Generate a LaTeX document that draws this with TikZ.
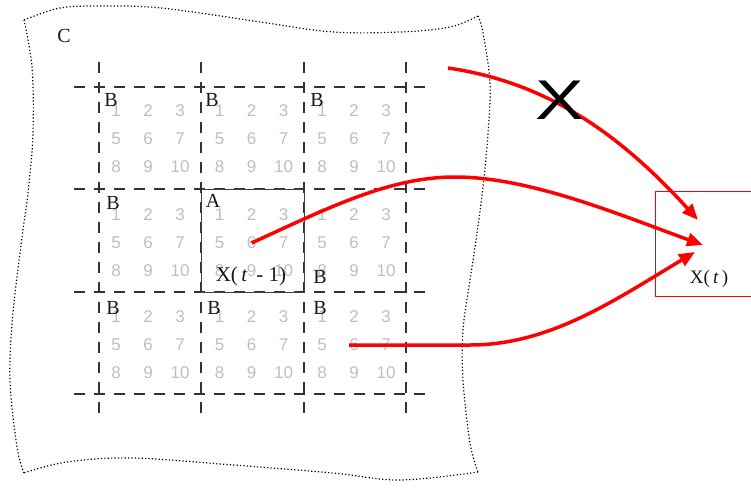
\documentclass[tikz,border=0pt]{standalone}
\usepackage{fontspec}
\setmainfont{Liberation Serif}
\newfontfamily\digitfont{Liberation Sans}
\newfontfamily\xfont{Liberation Sans}
\usetikzlibrary{arrows.meta}
\begin{document}
\begin{tikzpicture}[x=1pt,y=-1pt,
  gridline/.style={draw=black!80, line width=1.2pt, dash pattern=on 11pt off 9pt},
  boundary/.style={draw=black, line width=1.2pt, dash pattern=on 1.2pt off 2.2pt},
  digit/.style={font=\digitfont\fontsize{17}{17}\selectfont, text=black!25, inner sep=0pt},
  lab/.style={font=\fontsize{20}{20}\selectfont, inner sep=0pt, text=black!90},
  redarrow/.style={draw=red, line width=3.5pt, -{Triangle[length=16pt,width=13pt]}},
]
\clip (0,0) rectangle (751,487);
\fill[white] (0,0) rectangle (751,487);

% wavy dotted boundary C
\draw[boundary] plot[smooth, tension=0.6] coordinates {(24,20) (60,8) (100,6) (150,7) (200,13) (267,23) (333,32) (400,32) (450,27) (478,16)};
\draw[boundary] plot[smooth, tension=0.6] coordinates {(478,16) (483,33) (490,83) (488,133) (483,187) (476,240) (470,280) (463,330) (463,380) (470,443) (478,472)};
\draw[boundary] plot[smooth, tension=0.6] coordinates {(478,472) (400,480) (333,473) (233,465) (133,458) (67,462) (24,473)};
\draw[boundary] plot[smooth, tension=0.6] coordinates {(24,473) (17,447) (10,380) (13,313) (23,230) (28,193) (33,133) (32,67) (24,20)};
\node[lab] (labC) at (64,36) {C};

% dashed grid
\foreach \y in {87,189,292,394} \draw[gridline] (74,\y) -- (427,\y);
\foreach \x in {99,201,304,406} \draw[gridline] (\x,62) -- (\x,416);

% box A
\node[draw=black!75, line width=1.3pt, minimum width=103pt, minimum height=103pt, inner sep=0pt, anchor=north west] (boxA) at (201,189) {};

% digits
\foreach \c/\x in {1/116,2/219.5,3/322}{
  \foreach \r/\y in {1/110.5,2/215,3/317}{
    \foreach \d/\dx/\dy in {1/0/0,2/32/0,3/64/0,5/0/28,6/32/28,7/64/28,8/0/56,9/32/56,10/64/56}{
      \node[digit] (d\c\r-\d) at (\x+\dx,\y+\dy) {\d};
    }
  }
}

% labels
\node[lab] (b11) at (111,100) {B};
\node[lab] (b21) at (212,100) {B};
\node[lab] (b31) at (317,100) {B};
\node[lab] (b12) at (113,203) {B};
\node[lab] (a22) at (213,201) {A};
\node[lab] (b32) at (320,277) {B};
\node[lab] (b13) at (113,308) {B};
\node[lab] (b23) at (214,308) {B};
\node[lab] (b33) at (320,308) {B};
\node[font=\fontsize{21}{21}\selectfont, inner sep=0pt, text=black!90] (xt1) at (251,276) {X(\,\textit{t}\, - 1)};

% target box
\node[draw=red, line width=0.8pt, minimum width=110pt, minimum height=105pt, inner sep=0pt, anchor=north west] (xtbox) at (655,191) {};
\draw[black!70, line width=0.8pt] ([yshift=13.5pt]xtbox.west) -- ([yshift=-28.5pt]xtbox.west);
\node[font=\fontsize{19}{19}\selectfont, inner sep=0pt, text=black!90] (xt) at (709,279) {X(\,\textit{t}\,)};

\coordinate (s1) at (448,68);
\coordinate (tip1) at (698,220);
\coordinate (tip2) at (703,245);
\coordinate (tip3) at (695,252);

% red arrows
\draw[redarrow] (s1) .. controls (545,82) and (618,132) .. (tip1);
\draw[redarrow] (d22-6.center) .. controls (330,207) and (390,177) .. (455,177) .. controls (530,177) and (620,215) .. (tip2);
\draw[redarrow] (d33-6.west) -- (470,345) .. controls (550,345) and (615,300) .. (tip3);

% cross mark
\node[inner sep=0pt] (xmark) at (560,100) {\scalebox{1.3}[1]{\xfont\fontsize{56}{56}\selectfont X}};
\end{tikzpicture}
\end{document}
